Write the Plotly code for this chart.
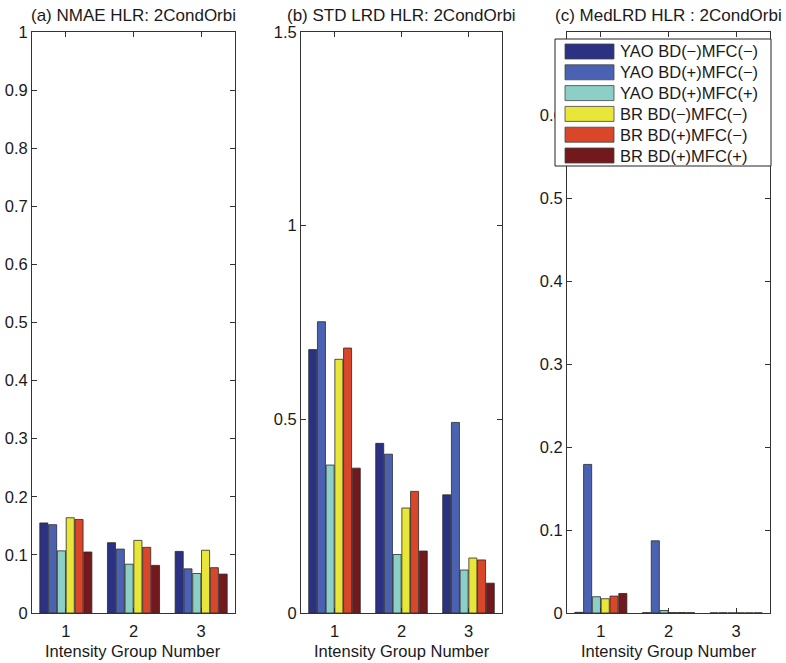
import plotly.graph_objects as go
from plotly.subplots import make_subplots

groups = [1, 2, 3]
series_names = ["YAO BD(\u2212)MFC(\u2212)", "YAO BD(+)MFC(\u2212)", "YAO BD(+)MFC(+)",
                "BR BD(\u2212)MFC(\u2212)", "BR BD(+)MFC(\u2212)", "BR BD(+)MFC(+)"]
colors = ["#2c3283", "#4a62b1", "#8ccfc6", "#e9e63a", "#d9462a", "#73181c"]

# (a) NMAE
nmae = [
    [0.155, 0.121, 0.106],
    [0.152, 0.110, 0.076],
    [0.107, 0.084, 0.068],
    [0.164, 0.125, 0.108],
    [0.161, 0.113, 0.078],
    [0.105, 0.082, 0.067],
]
# (b) STD LRD
std_lrd = [
    [0.680, 0.438, 0.305],
    [0.752, 0.410, 0.492],
    [0.382, 0.151, 0.111],
    [0.655, 0.271, 0.142],
    [0.684, 0.314, 0.137],
    [0.374, 0.160, 0.077],
]
# (c) MedLRD
med_lrd = [
    [0.0008, 0.0004, 0.0002],
    [0.179, 0.087, 0.0003],
    [0.0196, 0.003, 0.0002],
    [0.0172, 0.0006, 0.0002],
    [0.0204, 0.0006, 0.0002],
    [0.0235, 0.0004, 0.0002],
]

titles = ["(a) NMAE HLR: 2CondOrbi", "(b) STD LRD HLR: 2CondOrbi", "(c) MedLRD HLR : 2CondOrbi"]
y_ranges = [[0, 1], [0, 1.5], [0, 0.7]]
y_ticks = [[0, 0.1, 0.2, 0.3, 0.4, 0.5, 0.6, 0.7, 0.8, 0.9, 1],
           [0, 0.5, 1, 1.5],
           [0, 0.1, 0.2, 0.3, 0.4, 0.5, 0.6]]
y_ticktext = [["0", "0.1", "0.2", "0.3", "0.4", "0.5", "0.6", "0.7", "0.8", "0.9", "1"],
              ["0", "0.5", "1", "1.5"],
              ["0", "0.1", "0.2", "0.3", "0.4", "0.5", "0.6"]]
xlabel = "Intensity Group Number"

W, H = 786, 663


def px(x):
    return x / W


def py(y):
    return 1 - y / H


x_doms = [(px(32), px(235)), (px(301), px(502)), (px(567), px(770))]
y_dom = (py(613), py(32))

FONT = "Liberation Sans"
TXT = "#1a1a1a"

fig = make_subplots(rows=1, cols=3)
datasets = [nmae, std_lrd, med_lrd]
for p, data in enumerate(datasets):
    for i, name in enumerate(series_names):
        fig.add_trace(go.Bar(x=groups, y=data[i], name=name, marker_color=colors[i],
                             marker_line_color="#2a2a2a", marker_line_width=0.8,
                             showlegend=False, offsetgroup=str(i)), row=1, col=p + 1)

for p in range(3):
    ax = "" if p == 0 else str(p + 1)
    fig.layout["xaxis" + ax].update(
        domain=x_doms[p], range=[0.5, 3.5], tickvals=groups, ticktext=[str(g) for g in groups],
        ticks="inside", ticklen=5, tickcolor="#333", showline=True, linecolor="#333",
        linewidth=1, mirror="ticks", showgrid=False, zeroline=False, automargin=False,
        ticklabelstandoff=3,
        tickfont=dict(family=FONT, size=16.5, color=TXT))
    fig.layout["yaxis" + ax].update(
        domain=y_dom, range=y_ranges[p], tickvals=y_ticks[p], ticktext=y_ticktext[p],
        ticks="inside", ticklen=5, tickcolor="#333", showline=True, linecolor="#333",
        linewidth=1, mirror="ticks", showgrid=False, zeroline=False, automargin=False,
        tickfont=dict(family=FONT, size=16.5, color=TXT))
    xc = (x_doms[p][0] + x_doms[p][1]) / 2
    fig.add_annotation(text=titles[p], xref="paper", yref="paper",
                       x=xc, y=py(15),
                       showarrow=False, xanchor="center", yanchor="middle",
                       font=dict(family=FONT, size=17, color=TXT))
    fig.add_annotation(text=xlabel, xref="paper", yref="paper",
                       x=xc, y=py(651),
                       showarrow=False, xanchor="center", yanchor="middle",
                       font=dict(family=FONT, size=16.5, color=TXT))

# Custom legend (MATLAB style) inside panel (c)
fig.add_shape(type="rect", xref="paper", yref="paper", x0=px(555), x1=px(771),
              y0=py(166), y1=py(39),
              fillcolor="white", line=dict(color="#222", width=1), layer="above")
for i, name in enumerate(series_names):
    top = 44 + i * 20.8
    fig.add_shape(type="rect", xref="paper", yref="paper",
                  x0=px(565), x1=px(614), y0=py(top + 15), y1=py(top),
                  fillcolor=colors[i], line=dict(color="#444", width=0.8), layer="above")
    fig.add_annotation(text=name, xref="paper", yref="paper", x=px(618), y=py(top + 7.5),
                       showarrow=False, xanchor="left", yanchor="middle",
                       font=dict(family=FONT, size=16.5, color=TXT))

fig.update_layout(width=W, height=H, margin=dict(l=0, r=0, t=0, b=0, autoexpand=False),
                  plot_bgcolor="white", paper_bgcolor="white",
                  barmode="group", bargap=0.22, bargroupgap=0.08)

# remove the browser's default 8px body margin so the figure fills the window exactly
fig.write_html("out.html", config={"displayModeBar": False},
               post_script="document.body.style.margin='0px';")
